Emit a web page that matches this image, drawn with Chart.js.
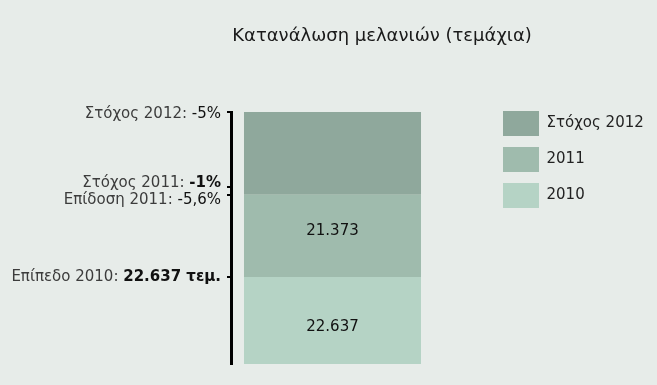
<!DOCTYPE html>
<html><head><meta charset="utf-8">
<script src="https://cdn.jsdelivr.net/npm/chart.js@4.4.1/dist/chart.umd.min.js"></script>
<style>html,body{margin:0;padding:0;background:#e7ece9;}canvas{display:block}</style>
</head><body>
<canvas id="c" width="657" height="385"></canvas>
<script>
// ---- data ----
const categories = ['Κατανάλωση μελανιών'];
const seriesNames = ['2010', '2011', 'Στόχος 2012'];
const values2010 = [22637];
const values2011 = [21373];
const valuesTarget2012 = [21505];
const showValueLabel = [true, true, false];
const tickValues = [22637, 43940, 46020, 65515];
const tickPrefixes = ['Επίπεδο 2010: ', 'Επίδοση 2011: ', 'Στόχος 2011: ', 'Στόχος 2012: '];
const tickSuffixes = ['22.637 τεμ.', '-5,6%', '-1%', '-5%'];
const tickBold = [true, false, true, false];
const titleText = 'Κατανάλωση μελανιών (τεμάχια)';

// ---- style ----
const FONT = '"DejaVu Sans", sans-serif';
const colors = ['#b5d3c5', '#9fbbad', '#8fa89c'];
const tickNudge = [0, 5.5, -4, 2.5];
const barNudge = [7, -5, 0];
const fmt = v => String(v).replace(/\B(?=(\d{3})+(?!\d))/g, '.');

const seriesValues = [values2010, values2011, valuesTarget2012];
const total = seriesValues.reduce((s, a) => s + a[0], 0);

// layout helpers (legend left edge at 492, title centred at 382)
const mctx = document.createElement('canvas').getContext('2d');
mctx.font = '15px ' + FONT;
const maxW = Math.max(...seriesNames.map(s => mctx.measureText(s).width));
const legendW = 11 + 36 + 7.5 + maxW + 10;
const padRight = Math.max(0, 657 - 492 - legendW);
const padLeft = 107 + padRight;

const labelPlugin = {
  id: 'customLabels',
  afterDraw(chart) {
    const ctx = chart.ctx, ys = chart.scales.y;
    ctx.save();
    ctx.textBaseline = 'middle';
    ctx.textAlign = 'right';
    const xr = ys.right - 4 - 6;
    ys.ticks.forEach((t, i) => {
      const y = ys.getPixelForTick(i) + tickNudge[i];
      ctx.font = (tickBold[i] ? 'bold ' : '') + '15px ' + FONT;
      ctx.fillStyle = '#111';
      ctx.fillText(tickSuffixes[i], xr, y);
      const w = ctx.measureText(tickSuffixes[i]).width;
      ctx.font = '15px ' + FONT;
      ctx.fillStyle = '#3c3c3c';
      ctx.fillText(tickPrefixes[i], xr - w, y);
    });
    ctx.textAlign = 'center';
    ctx.font = '15px ' + FONT;
    ctx.fillStyle = '#111';
    chart.data.datasets.forEach((ds, di) => {
      if (!showValueLabel[di]) return;
      chart.getDatasetMeta(di).data.forEach((el, j) => {
        ctx.fillText(fmt(ds.data[j]), el.x, (el.y + el.base) / 2 + barNudge[di]);
      });
    });
    ctx.restore();
  }
};

new Chart(document.getElementById('c'), {
  type: 'bar',
  data: {
    labels: categories,
    datasets: seriesNames.map((n, i) => ({
      label: n,
      data: seriesValues[i],
      backgroundColor: colors[i],
      borderWidth: 0,
      barPercentage: 0.872,
      categoryPercentage: 1
    }))
  },
  options: {
    responsive: false,
    animation: false,
    layout: { padding: { left: padLeft, right: padRight, top: 0, bottom: 21 } },
    scales: {
      x: { stacked: true, display: false },
      y: {
        stacked: true, min: 0, max: total, position: 'left',
        afterBuildTicks: s => { s.ticks = tickValues.map(v => ({ value: v })); },
        afterFit: s => { s.width = 231 - padLeft; },
        ticks: { display: false },
        grid: { display: true, drawOnChartArea: false, drawTicks: true, tickLength: 4, color: '#000', lineWidth: 2 },
        border: { display: true, color: '#000', width: 3 }
      },
      y2: {
        position: 'right', min: 0, max: 1, display: true,
        afterFit: s => { s.width = 58; },
        ticks: { display: false },
        grid: { display: false },
        border: { display: false }
      }
    },
    plugins: {
      title: {
        display: true, text: titleText, color: '#1a1a1a',
        font: { family: FONT, size: 18, weight: 'normal', lineHeight: 1.2 },
        padding: { top: 26, bottom: 112 - 26 - 21.6 }
      },
      legend: {
        position: 'right', align: 'start', reverse: true, maxWidth: 400,
        labels: { boxWidth: 36, boxHeight: 25, padding: 11, color: '#222', font: { family: FONT, size: 15 } },
        title: { display: true, text: '', font: { size: 10, lineHeight: 1.2 }, padding: { top: 88, bottom: 0 } }
      },
      tooltip: { enabled: false }
    }
  },
  plugins: [labelPlugin]
});
</script>
</body></html>
